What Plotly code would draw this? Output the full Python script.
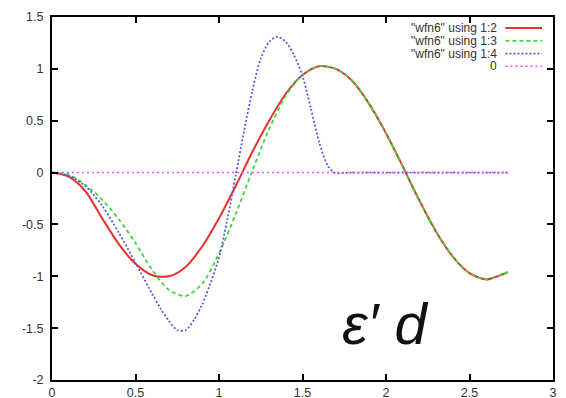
import plotly.graph_objects as go

# ---- data ----
x_red = [0.0, 0.1, 0.2, 0.3, 0.4, 0.5, 0.6, 0.7, 0.8, 0.9, 1.0, 1.1, 1.2, 1.3,
         1.4, 1.5, 1.6, 1.7, 1.8, 1.9, 2.0, 2.1, 2.2, 2.3, 2.4, 2.5, 2.6, 2.7, 2.73]
y_red = [0.0, -0.04, -0.18, -0.44, -0.69, -0.88, -0.99, -1.00, -0.91, -0.71, -0.44,
         -0.13, 0.20, 0.50, 0.76, 0.94, 1.025, 1.00, 0.88, 0.66, 0.38, 0.06, -0.27,
         -0.57, -0.81, -0.97, -1.03, -0.98, -0.96]

x_green = [0.0, 0.1, 0.2, 0.3, 0.4, 0.5, 0.6, 0.7, 0.8, 0.9, 1.0, 1.1, 1.2, 1.3,
           1.4, 1.5, 1.6, 1.7, 1.8, 1.9, 2.0, 2.1, 2.2, 2.3, 2.4, 2.5, 2.6, 2.7, 2.73]
y_green = [0.0, -0.02, -0.12, -0.26, -0.45, -0.68, -0.94, -1.13, -1.19, -1.07, -0.78,
           -0.40, 0.02, 0.42, 0.74, 0.94, 1.025, 1.00, 0.88, 0.66, 0.38, 0.06, -0.27,
           -0.57, -0.81, -0.97, -1.03, -0.98, -0.96]

x_blue = [0.0, 0.1, 0.2, 0.3, 0.4, 0.5, 0.6, 0.65, 0.7, 0.75, 0.8, 0.85, 0.9, 0.95,
          1.0, 1.05, 1.1, 1.15, 1.2, 1.25, 1.3, 1.35, 1.4, 1.45, 1.5, 1.55, 1.6,
          1.65, 1.69, 1.8, 2.0, 2.2, 2.4, 2.6, 2.73]
y_blue = [0.0, -0.03, -0.13, -0.32, -0.58, -0.87, -1.17, -1.31, -1.43, -1.52, -1.52,
          -1.42, -1.27, -1.06, -0.82, -0.45, -0.03, 0.40, 0.79, 1.10, 1.26, 1.31,
          1.26, 1.13, 0.93, 0.62, 0.29, 0.07, 0.0, 0.0, 0.0, 0.0, 0.0, 0.0, 0.0]

x_zero = [0.0, 2.73]
y_zero = [0.0, 0.0]

legend_labels = ['"wfn6" using 1:2', '"wfn6" using 1:3', '"wfn6" using 1:4', '0']
x_ticks = [0, 0.5, 1, 1.5, 2, 2.5, 3]
x_tick_text = ["0", "0.5", "1", "1.5", "2", "2.5", "3"]
y_ticks = [-2, -1.5, -1, -0.5, 0, 0.5, 1, 1.5]
y_tick_text = ["-2", "-1.5", "-1", "-0.5", "0", "0.5", "1", "1.5"]

colors = ["#e8302c", "#3fd63f", "#5a5ae0", "#ee50ee"]
dashes = ["solid", "4px,3px", "2px,2px", "2px,3px"]
widths = [2, 1.8, 1.8, 1.5]

series = [(x_red, y_red), (x_green, y_green), (x_blue, y_blue), (x_zero, y_zero)]

fig = go.Figure()
for (xs, ys), c, d, w in zip(series, colors, dashes, widths):
    fig.add_trace(go.Scatter(x=xs, y=ys, mode="lines",
                             line=dict(color=c, dash=d, width=w, shape="spline", smoothing=0.8),
                             showlegend=False, hoverinfo="skip"))

# manual gnuplot-style legend (text right-aligned, sample on right)
row_y = [0.970, 0.934, 0.899, 0.864]
for lab, c, d, w, ry in zip(legend_labels, colors, dashes, widths, row_y):
    fig.add_annotation(x=0.890, y=ry, xref="paper", yref="paper", text=lab,
                       showarrow=False, xanchor="right", yanchor="middle", borderpad=0,
                       font=dict(family="Liberation Sans, Arial", size=12, color="#333333"))
    fig.add_shape(type="line", xref="paper", yref="paper", x0=0.905, x1=0.978,
                  y0=ry, y1=ry, line=dict(color=c, dash=d, width=w))

fig.add_annotation(x=0.665, y=0.155, xref="paper", yref="paper", text="<i>ε′ d</i>",
                   showarrow=False, xanchor="center", yanchor="middle",
                   font=dict(family="Liberation Sans, Arial", size=58, color="#111111"))

axis_common = dict(showline=True, linecolor="black", linewidth=2, mirror="ticks",
                   ticks="inside", ticklen=6, tickwidth=2, tickcolor="black",
                   showgrid=False, zeroline=False, automargin=False,
                   tickfont=dict(family="Liberation Sans, Arial", size=12.5, color="#333333"))

fig.update_xaxes(range=[0, 3], tickvals=x_ticks, ticktext=x_tick_text,
                 ticklabelstandoff=0, **axis_common)
fig.update_yaxes(range=[-2, 1.5], tickvals=y_ticks, ticktext=y_tick_text,
                 ticklabelstandoff=4, **axis_common)

fig.update_layout(width=566, height=398, margin=dict(l=52, r=13, t=17, b=18),
                  paper_bgcolor="white", plot_bgcolor="white")

fig.write_html("out.html")
